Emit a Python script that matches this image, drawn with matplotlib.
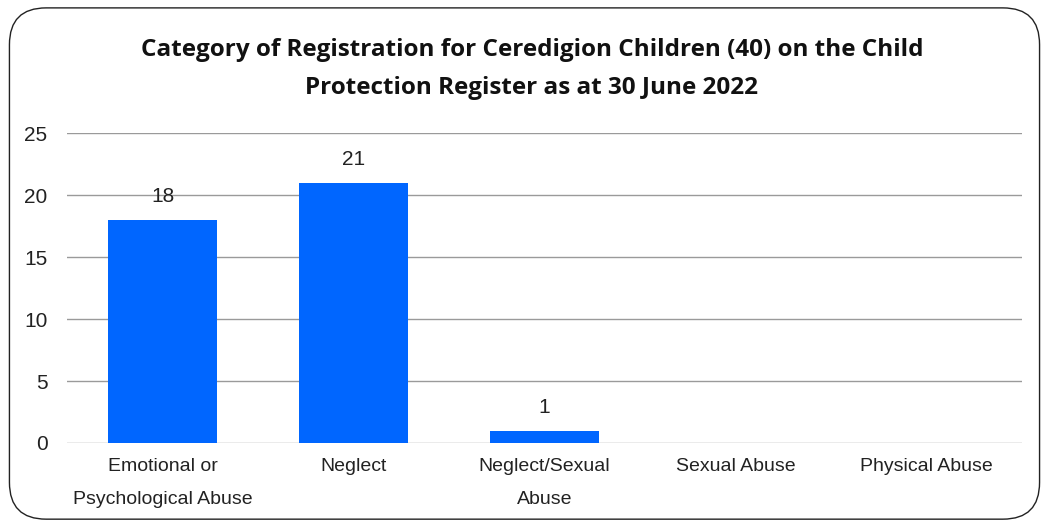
import matplotlib.pyplot as plt
from matplotlib.patches import FancyBboxPatch

# Registration categories and counts
categories = [
    "Emotional or\nPsychological Abuse",
    "Neglect",
    "Neglect/Sexual\nAbuse",
    "Sexual Abuse",
    "Physical Abuse",
]
counts = [18, 21, 1, 0, 0]
yticks = [0, 5, 10, 15, 20, 25]

title = ("Category of Registration for Ceredigion Children (40) on the Child\n"
         "Protection Register as at 30 June 2022")

tick_font = ["Liberation Sans", "DejaVu Sans"]

fig = plt.figure(figsize=(10.49, 5.26), dpi=100)

# rounded chart border
border = FancyBboxPatch((0.009, 0.013), 0.982, 0.972,
                        boxstyle="round,pad=0,rounding_size=0.035",
                        transform=fig.transFigure, fill=False,
                        edgecolor="#222222", linewidth=1.0,
                        mutation_aspect=1049 / 526)
fig.patches.append(border)

ax = fig.add_axes([0.0639, 0.1578, 0.9101, 0.5892])

x = range(len(categories))
bars = ax.bar(x, counts, width=0.57, color="#0066FF", zorder=3)

for b, v in zip(bars, counts):
    if v > 0:
        ax.text(b.get_x() + b.get_width() / 2, v + 1.1, str(v),
                ha="center", va="bottom", fontsize=15, family=tick_font,
                color="#222222", zorder=4)

ax.set_xlim(-0.5, len(categories) - 0.5)
ax.set_ylim(0, 25)
ax.set_yticks(yticks)
ax.set_xticks(list(x))
ax.set_xticklabels(categories, family=tick_font, fontsize=14, color="#222222",
                   linespacing=2.2)
for lbl in ax.get_yticklabels():
    lbl.set_family(tick_font)
    lbl.set_fontsize(15)
    lbl.set_color("#222222")

ax.grid(axis="y", color="#9a9a9a", linewidth=1, zorder=0)
for s in ax.spines.values():
    s.set_visible(False)
ax.tick_params(axis="y", length=0, pad=14)
ax.tick_params(axis="x", length=0, pad=11)

fig.text(0.507, 0.869, title, ha="center", va="center", fontsize=17.5,
         fontweight="bold", family=["Open Sans", "DejaVu Sans"],
         linespacing=1.75, color="#111111")

fig.savefig("out.png", dpi=100)
